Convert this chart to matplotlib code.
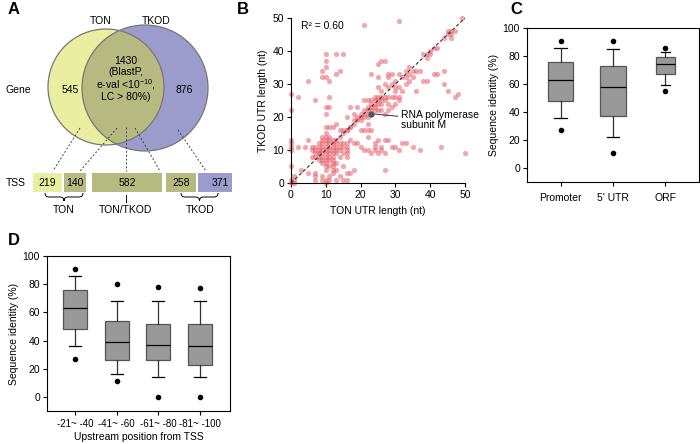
import numpy as np
import matplotlib
matplotlib.use("Agg")
import matplotlib.pyplot as plt
from matplotlib.patches import Circle, Rectangle, PathPatch
from matplotlib.path import Path

plt.rcParams['font.family'] = ['Liberation Sans', 'DejaVu Sans']
plt.rcParams['font.size'] = 7.5
plt.rcParams['mathtext.fontset'] = 'custom'
plt.rcParams['mathtext.rm'] = 'Liberation Sans'

# ---- data ----
venn_labels = ['TON', 'TKOD']
venn_counts = [545, 1430, 876]
tss_counts = [219, 140, 582, 258, 371]

ton_utr = [0, 0, 1, 1, 1, 0, 0, 0, 0, 0, 0, 0, 2, 2, 3, 4, 5, 5, 5, 7, 7, 7, 7, 8, 9, 10, 10, 11, 12, 12, 12, 10, 10, 13, 13, 15, 16, 9, 11,
           10, 13, 15, 10, 10, 9, 14, 13, 9, 10, 11, 11, 11, 10, 10, 10, 11, 12, 13, 15, 14, 16, 17, 17, 19, 18, 16,
           7, 7, 7, 8, 8, 8, 8, 8, 9, 9, 9, 9, 9, 9, 9, 10, 10, 10, 10, 10, 10, 10, 10, 10, 11, 11, 11, 11, 11, 11, 11,
           12, 12, 12, 12, 12, 12, 13, 13, 13, 13, 14, 14, 14, 6, 6, 8, 9, 7, 12, 13, 10, 9, 11, 15, 16, 15, 16, 16, 16, 16, 15, 14, 6, 12, 13, 11, 14, 15,
           17, 18, 19, 20, 21, 22, 22, 20, 21, 22, 22, 23, 23, 24, 25, 24, 25, 26, 27, 26, 27, 29, 31, 33, 35, 37, 43, 50,
           14, 15, 16, 17, 18, 19, 18, 19, 20, 20, 21, 20, 21, 21, 22, 22, 22, 22, 23, 23, 23, 23, 24, 24, 24, 24, 24,
           25, 25, 25, 26, 26, 26, 27, 27, 28, 29, 30, 31, 31, 28, 30, 26, 28, 29, 27, 25, 23, 22, 21, 25, 26, 27, 28, 29,
           30, 30, 31, 32, 30, 33, 34, 33, 35, 32, 28, 28, 29, 31, 33, 35, 34, 36, 37, 34, 23, 25, 26, 27, 25, 21, 31, 49,
           38, 39, 39, 40, 40, 41, 42, 44, 45, 46, 46, 46, 45, 47, 41, 39, 44, 44, 45, 48, 47, 36, 38, 42,
           28, 24, 27, 30, 32, 17, 16, 18]
tkod_utr = [0, 1, 0, 1, 2, 5, 10, 11, 12, 13, 22, 27, 26, 11, 4, 11, 13, 3, 31, 25, 3, 2, 1, 9, 1, 1, 0, 1, 3, 4, 5, 4, 5, 6, 1, 1, 3, 2, 2,
            39, 39, 39, 37, 35, 34, 34, 33, 32, 32, 31, 26, 23, 23, 21, 17, 17, 17, 18, 16, 16, 16, 17, 23, 23, 21, 20,
            9, 10, 11, 8, 9, 10, 11, 12, 7, 8, 9, 10, 11, 12, 13, 6, 7, 8, 9, 10, 11, 12, 13, 14, 7, 8, 9, 10, 11, 12, 13,
            8, 9, 10, 11, 12, 13, 9, 10, 11, 12, 10, 11, 12, 11, 10, 7, 6, 8, 7, 13, 15, 14, 14, 12, 12, 11, 11, 10, 9, 8, 9, 8, 8, 6, 4, 5, 2, 5,
            13, 12, 12, 11, 10, 10, 14, 16, 16, 16, 18, 16, 9, 10, 9, 12, 13, 11, 13, 10, 4, 11, 10, 12, 11, 10, 11, 9,
            14, 15, 16, 17, 18, 19, 19, 20, 20, 21, 21, 19, 20, 22, 20, 21, 22, 23, 21, 22, 23, 24, 22, 23, 24, 25, 26,
            24, 25, 26, 24, 25, 26, 25, 26, 26, 26, 26, 26, 25, 24, 24, 22, 22, 23, 21, 22, 25, 25, 25, 29, 28, 30, 29, 30,
            28, 29, 29, 28, 31, 30, 31, 32, 32, 32, 32, 33, 33, 33, 34, 34, 35, 34, 34, 33, 33, 32, 37, 37, 36, 48, 49, 50,
            39, 38, 39, 40, 39, 41, 41, 44, 46, 46, 45, 44, 45, 46, 33, 31, 34, 30, 28, 27, 26, 28, 31, 33,
            13, 11, 9, 11, 12, 3, 1, 4]
fit_slope = 1.0
fit_intercept = 0.0
r_squared = 0.60
highlight = (23, 21)

c_categories = ['Promoter', "5' UTR", 'ORF']
c_whislo = [36, 22, 59]
c_q1 = [48, 37, 67]
c_med = [63, 58, 74]
c_q3 = [76, 73, 79]
c_whishi = [86, 85, 83]
c_fliers = [[27, 91], [11, 91], [55, 86]]

d_categories = ['-21~ -40', '-41~ -60', '-61~ -80', '-81~ -100']
d_whislo = [36, 16, 14, 14]
d_q1 = [48, 26, 26, 23]
d_med = [63, 39, 37, 36]
d_q3 = [76, 54, 52, 52]
d_whishi = [86, 68, 68, 68]
d_fliers = [[27, 91], [11, 80], [0, 78], [0, 77]]

yellow = '#eaeea0'
olive = '#b7ba80'
purple = '#9c9ccc'

W, H = 700, 444
fig = plt.figure(figsize=(7, 4.44), dpi=100)


def ax_at(left, top, right, bottom):
    return fig.add_axes([left / W, 1 - bottom / H, (right - left) / W, (bottom - top) / H])


# ---- panel A (drawn in pixel units) ----
axa = ax_at(0, 0, 235, 230)
axa.set_xlim(0, 235)
axa.set_ylim(230, 0)
axa.axis('off')

c_ton = Circle((106, 87), 58, fc=yellow, ec='none')
c_tkod = Circle((145, 88), 63, fc=purple, ec='none')
axa.add_patch(c_ton)
axa.add_patch(c_tkod)
c_mid = Circle((106, 87), 58, fc=olive, ec='none')
axa.add_patch(c_mid)
c_mid.set_clip_path(c_tkod)
axa.add_patch(Circle((106, 87), 58, fc='none', ec='#777777', lw=0.9))
axa.add_patch(Circle((145, 88), 63, fc='none', ec='#777777', lw=0.9))

axa.text(101, 21, venn_labels[0], ha='center', va='center')
axa.text(156, 21, venn_labels[1], ha='center', va='center')
axa.text(6, 90, 'Gene', ha='left', va='center')
axa.text(70, 90, str(venn_counts[0]), ha='center', va='center')
axa.text(184, 90, str(venn_counts[2]), ha='center', va='center')
axa.text(126, 61, str(venn_counts[1]), ha='center', va='center')
axa.text(126, 72, '(BlastP,', ha='center', va='center')
axa.text(126, 85, 'e-val <10$^{-10}$,', ha='center', va='center')
axa.text(126, 97, 'LC > 80%)', ha='center', va='center')

box_x = [(33, 62), (64, 86), (92, 162), (166, 196), (198, 232)]
box_c = [yellow, olive, olive, olive, purple]
text_x = [47, 75, 127, 181, 220]
for (x0, x1), col, tx, n in zip(box_x, box_c, text_x, tss_counts):
    axa.add_patch(Rectangle((x0, 173), x1 - x0, 19, fc=col, ec='none'))
    axa.text(tx, 183, str(n), ha='center', va='center')
axa.text(6, 183, 'TSS', ha='left', va='center')

for (xa, ya), (xb, yb) in [((80, 128), (53, 171)), ((117, 128), (80, 171)),
                           ((126, 127), (126, 171)), ((135, 128), (160, 171)),
                           ((178, 130), (206, 171))]:
    axa.plot([xa, xb], [ya, yb], ls=(0, (2, 2)), color='#444444', lw=0.7)


def brace(x0, x1, y, h=8):
    xc = (x0 + x1) / 2
    verts = [(x0, y), (x0, y + h / 2), (x0 + h / 2, y + h / 2),
             (xc - h / 2, y + h / 2), (xc, y + h / 2), (xc, y + h),
             (xc, y + h / 2), (xc + h / 2, y + h / 2),
             (x1 - h / 2, y + h / 2), (x1, y + h / 2), (x1, y)]
    codes = [Path.MOVETO, Path.CURVE3, Path.CURVE3, Path.LINETO, Path.CURVE3, Path.CURVE3,
             Path.CURVE3, Path.CURVE3, Path.LINETO, Path.CURVE3, Path.CURVE3]
    axa.add_patch(PathPatch(Path(verts, codes), fc='none', ec='black', lw=0.7))


brace(45, 83, 193)
brace(181, 218, 193)
axa.plot([126, 126], [195, 202], color='black', lw=0.7)
axa.text(64, 210, 'TON', ha='center', va='center')
axa.text(126, 210, 'TON/TKOD', ha='center', va='center')
axa.text(200, 210, 'TKOD', ha='center', va='center')

# ---- panel B ----
axb = ax_at(291, 18, 465, 183)
axb.scatter(ton_utr, tkod_utr, s=14, color='#e8606c', alpha=0.55, linewidths=0, clip_on=False, zorder=2)
lx = np.array([0, 50])
axb.plot(lx, fit_slope * lx + fit_intercept, ls=(0, (3, 2)), color='#333333', lw=0.8, zorder=3)
axb.scatter([highlight[0]], [highlight[1]], s=12, color='#555555', zorder=4)
axb.annotate('RNA polymerase\nsubunit M', xy=highlight, xytext=(31.5, 19),
             ha='left', va='center', linespacing=0.95,
             arrowprops=dict(arrowstyle='-', color='#333333', lw=0.7, shrinkA=0, shrinkB=2))
axb.text(3, 47.5, 'R² = %.2f' % r_squared, va='center')
axb.set_xlim(0, 50)
axb.set_ylim(0, 50)
axb.set_xticks([0, 10, 20, 30, 40, 50])
axb.set_yticks([0, 10, 20, 30, 40, 50])
axb.spines['top'].set_visible(False)
axb.spines['right'].set_visible(False)
axb.tick_params(length=3, pad=2)
axb.set_xlabel('TON UTR length (nt)', labelpad=4)
axb.set_ylabel('TKOD UTR length (nt)', labelpad=3)


def boxes(ax, cats, lo, q1, med, q3, hi, fl, widths):
    stats = []
    for i in range(len(cats)):
        stats.append(dict(label=cats[i], whislo=lo[i], q1=q1[i], med=med[i], q3=q3[i],
                          whishi=hi[i], fliers=fl[i]))
    ax.bxp(stats, positions=range(1, len(cats) + 1), widths=widths, patch_artist=True,
           boxprops=dict(facecolor='#999999', edgecolor='#555555', lw=0.9),
           medianprops=dict(color='black', lw=0.9),
           whiskerprops=dict(color='#333333', lw=0.9),
           capprops=dict(color='black', lw=0.9),
           flierprops=dict(marker='o', markerfacecolor='black', markeredgecolor='black', markersize=3))
    ax.set_ylim(-10, 100)
    ax.set_yticks([0, 20, 40, 60, 80, 100])
    ax.set_ylabel('Sequence identity (%)', labelpad=3)
    ax.tick_params(length=3, pad=2)


# ---- panel C ----
axc = ax_at(527, 28, 699, 182)
boxes(axc, c_categories, c_whislo, c_q1, c_med, c_q3, c_whishi, c_fliers, [0.48, 0.48, 0.36])
axc.set_xlim(0.36, 3.64)
axc.tick_params(axis='x', pad=5)

# ---- panel D ----
axd = ax_at(47, 256, 230, 411)
boxes(axd, d_categories, d_whislo, d_q1, d_med, d_q3, d_whishi, d_fliers, [0.56, 0.58, 0.58, 0.58])
axd.set_xlim(0.33, 4.72)
axd.tick_params(axis='x', labelsize=7, pad=3)
axd.set_xlabel('Upstream position from TSS', labelpad=2)

for lbl, x, y in [('A', 8, 10), ('B', 237, 10), ('C', 510, 10), ('D', 8, 240)]:
    fig.text(x / W, 1 - y / H, lbl, fontsize=12, fontweight='bold', va='center', ha='left')

fig.savefig('out.png', dpi=100)
